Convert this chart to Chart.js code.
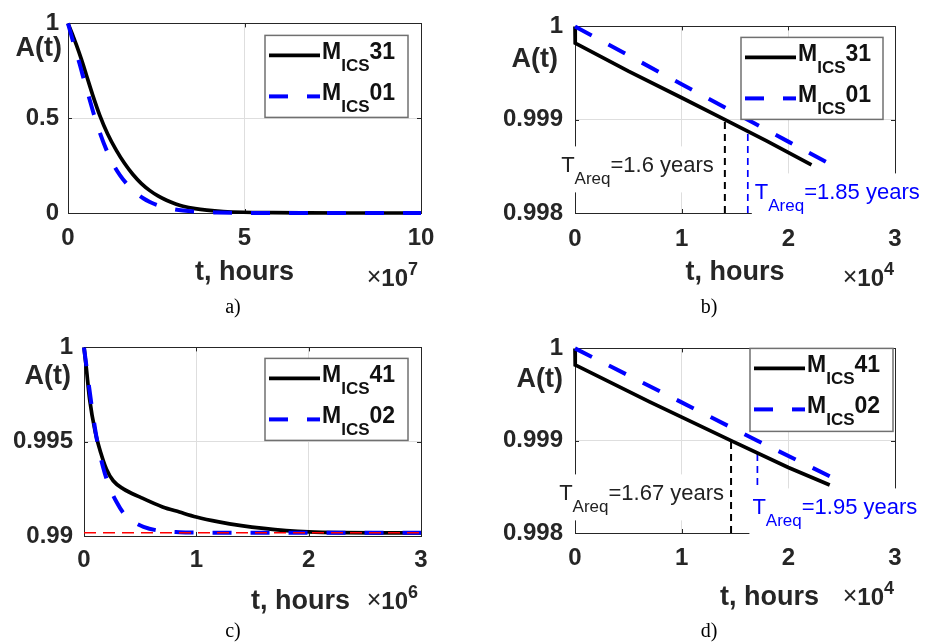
<!DOCTYPE html>
<html><head><meta charset="utf-8">
<script src="https://cdn.jsdelivr.net/npm/chart.js@4.4.1/dist/chart.umd.min.js"></script>
<style>
html,body{margin:0;padding:0;background:#fff;}
#wrap{position:relative;width:933px;height:644px;overflow:hidden;background:#fff;}
canvas{position:absolute;}
</style></head><body>
<div id="wrap">
<canvas id="ca" width="466" height="322" style="left:0;top:0"></canvas>
<canvas id="cb" width="467" height="322" style="left:466px;top:0"></canvas>
<canvas id="cc" width="466" height="322" style="left:0;top:322px"></canvas>
<canvas id="cd" width="467" height="322" style="left:466px;top:322px"></canvas>
</div>
<script>
// ================= DATA =================
// (a) time in units of 1e7 hours
const timeA31  = [0, 0.12, 0.24, 0.38, 0.52, 0.70, 0.90, 1.12, 1.37, 1.60, 1.84, 2.08, 2.32, 2.55, 2.79, 3.05, 3.26, 3.60, 3.93, 4.40, 4.97, 5.80, 6.60, 8.00, 10.0];
const availA31 = [1.0, 0.945, 0.885, 0.81, 0.728, 0.622, 0.515, 0.418, 0.33, 0.262, 0.203, 0.155, 0.118, 0.09, 0.067, 0.048, 0.036, 0.023, 0.015, 0.008, 0.004, 0.002, 0.001, 0.0, 0.0];
const timeA01  = [0, 0.15, 0.33, 0.47, 0.61, 0.75, 0.90, 1.08, 1.28, 1.47, 1.66, 1.90, 2.13, 2.32, 2.51, 2.85, 3.26, 3.70, 4.21, 5.00, 5.63, 10.0];
const availA01 = [1.0, 0.90, 0.786, 0.69, 0.60, 0.51, 0.425, 0.337, 0.258, 0.20, 0.155, 0.11, 0.078, 0.058, 0.043, 0.025, 0.013, 0.006, 0.003, 0.001, 0.0, 0.0];
const seriesA  = ['M_{ICS}31', 'M_{ICS}01'];
const xTicksA = [0, 5, 10], yTicksA = [0, 0.5, 1];

// (b) time in units of 1e4 hours
const timeB31  = [0, 0.002, 0.02, 0.5, 1.0, 1.405, 1.8, 2.217];
const availB31 = [1.0, 0.99982, 0.99981, 0.99952, 0.999235, 0.999, 0.99877, 0.998515];
const timeB01  = [0, 0.5, 1.0, 1.62, 2.0, 2.41];
const availB01 = [1.0, 0.99969, 0.99938, 0.999, 0.998765, 0.998513];
const reqTimeB = [1.405, 1.62];
const reqTopB  = [0.999, 0.99887];
const reqLabelsB = ['T_{Areq}=1.6 years', 'T_{Areq}=1.85 years'];
const seriesB  = ['M_{ICS}31', 'M_{ICS}01'];
const xTicksB = [0, 1, 2, 3], yTicksB = [0.998, 0.999, 1];

// (c) time in units of 1e6 hours
const timeC41  = [0, 0.02, 0.05, 0.1, 0.15, 0.2, 0.26, 0.35, 0.5, 0.7, 0.85, 1.0, 1.2, 1.4, 1.6, 1.8, 2.0, 2.3, 2.6, 3.0];
const availC41 = [1.0, 0.99895, 0.99725, 0.99552, 0.9944, 0.99354, 0.99293, 0.9925, 0.99206, 0.99154, 0.99127, 0.99101, 0.99075, 0.99055, 0.9904, 0.99029, 0.99022, 0.99018, 0.99017, 0.99017];
const timeC02  = [0, 0.04, 0.08, 0.12, 0.17, 0.22, 0.29, 0.36, 0.45, 0.53, 0.65, 0.85, 1.0, 1.5, 2.0, 3.0];
const availC02 = [1.0, 0.99815, 0.9964, 0.99495, 0.99365, 0.9927, 0.9918, 0.99115, 0.99072, 0.99049, 0.9903, 0.9902, 0.99018, 0.99017, 0.99017, 0.99017];
const limitTimeC  = [0, 3];
const limitAvailC = [0.99017, 0.99017];
const seriesC  = ['M_{ICS}41', 'M_{ICS}02'];
const xTicksC = [0, 1, 2, 3], yTicksC = [0.99, 0.995, 1];

// (d) time in units of 1e4 hours
const timeD41  = [0, 0.002, 0.02, 0.7, 1.463, 2.0, 2.388];
const availD41 = [1.0, 0.99982, 0.99981, 0.99942, 0.999, 0.99871, 0.99852];
const timeD02  = [0, 1.0, 1.71, 2.466];
const availD02 = [1.0, 0.999415, 0.999, 0.99857];
const reqTimeD = [1.463, 1.71];
const reqTopD  = [0.999, 0.99886];
const reqLabelsD = ['T_{Areq}=1.67 years', 'T_{Areq}=1.95 years'];
const seriesD  = ['M_{ICS}41', 'M_{ICS}02'];
const xTicksD = [0, 1, 2, 3], yTicksD = [0.998, 0.999, 1];

const yLabel = 'A(t)';
const xLabel = 't, hours';
const exponents = { ca: '7', cb: '4', cc: '6', cd: '4' };
const captions  = { ca: 'a)', cb: 'b)', cc: 'c)', cd: 'd)' };

// ================= STYLE / LAYOUT =================
const SANS = '"Liberation Sans", Arial, Helvetica, sans-serif';
const SERIF = '"Liberation Serif", "Times New Roman", serif';
const AXIS = '#262626';
const BLUE = '#0000ff';
const DASH = [19, 19];

function xy(xs, ys) { return xs.map((x, i) => ({ x: x, y: ys[i] })); }
function solidSet(label, xs, ys, smooth) {
  return { label, data: xy(xs, ys), borderColor: '#000', borderWidth: 3.7, pointRadius: 0, fill: false, clip: false, order: 2,
           cubicInterpolationMode: smooth ? 'monotone' : 'default', tension: 0 };
}
function dashSet(label, xs, ys, smooth) {
  return { label, data: xy(xs, ys), borderColor: BLUE, borderWidth: 4, borderDash: DASH, pointRadius: 0, fill: false, clip: false, order: 1,
           cubicInterpolationMode: smooth ? 'monotone' : 'default', tension: 0 };
}
function vline(t, y0, y1, color, w) {
  return { label: '', data: xy([t, t], [y0, y1]), borderColor: color, borderWidth: w, borderDash: [7, 5], pointRadius: 0, fill: false, clip: false, order: 3 };
}

const PANELS = {
  ca: { area: { l: 68, r: 421, t: 18, b: 213 }, xMin: 0, xMax: 10, yMin: 0, yMax: 1, xTicks: xTicksA, yTicks: yTicksA,
        yPad: 9, xPad: 11, series: seriesA,
        datasets: [solidSet(seriesA[0], timeA31, availA31, true), dashSet(seriesA[1], timeA01, availA01, true)],
        legend: { r: 13, t: 12, w: 143, h: 82 },
        ylab: { dx: -6, dy: 25 }, xtitle: { mode: 'center', dy: 67 }, mult: { dr: 3, dy: 73 }, cap: { x: 233, y: 313 }, notes: [] },
  cb: { area: { l: 109, r: 429, t: 19, b: 213 }, xMin: 0, xMax: 3, yMin: 0.998, yMax: 1, xTicks: xTicksB, yTicks: yTicksB,
        yPad: 12, xPad: 12, series: seriesB,
        datasets: [solidSet(seriesB[0], timeB31, availB31, false), dashSet(seriesB[1], timeB01, availB01, false),
                   vline(reqTimeB[0], 0.998, reqTopB[0], '#000', 2), vline(reqTimeB[1], 0.998, reqTopB[1], BLUE, 1.7)],
        legend: { r: 12, t: 11, w: 142, h: 82 },
        ylab: { dx: -17, dy: 33 }, xtitle: { mode: 'center', dy: 67 }, mult: { dr: 1, dy: 73 }, cap: { x: 243, y: 313 },
        notes: [ { t: reqTimeB[0], label: reqLabelsB[0], align: 'right', dx: -11, dy: 146, color: '#222' },
                 { t: reqTimeB[1], label: reqLabelsB[1], align: 'left', dx: 7, dy: 173, color: BLUE } ] },
  cc: { area: { l: 84, r: 421, t: 23, b: 214 }, xMin: 0, xMax: 3, yMin: 0.99, yMax: 1, xTicks: xTicksC, yTicks: yTicksC,
        yPad: 11, xPad: 10, series: seriesC,
        datasets: [solidSet(seriesC[0], timeC41, availC41, true), dashSet(seriesC[1], timeC02, availC02, true),
                   { label: '', data: xy(limitTimeC, limitAvailC), borderColor: '#ff0000', borderWidth: 1.5, borderDash: [12, 7], pointRadius: 0, fill: false, clip: false, order: 0 }],
        legend: { r: 13, t: 11, w: 143, h: 82 },
        ylab: { dx: -13, dy: 29 }, xtitle: { mode: 'right', dr: 71, dy: 73 }, mult: { dr: 3, dy: 73 }, cap: { x: 233, y: 315 }, notes: [] },
  cd: { area: { l: 109, r: 429, t: 24, b: 211 }, xMin: 0, xMax: 3, yMin: 0.998, yMax: 1, xTicks: xTicksD, yTicks: yTicksD,
        yPad: 12, xPad: 11, series: seriesD,
        datasets: [solidSet(seriesD[0], timeD41, availD41, false), dashSet(seriesD[1], timeD02, availD02, false),
                   vline(reqTimeD[0], 0.998, reqTopD[0], '#000', 2), vline(reqTimeD[1], 0.998, reqTopD[1], BLUE, 1.7)],
        legend: { r: 2, t: 0, w: 143, h: 83 },
        ylab: { dx: -12, dy: 31 }, xtitle: { mode: 'right', dr: 76, dy: 72 }, mult: { dr: 1, dy: 72 }, cap: { x: 243, y: 315 },
        notes: [ { t: reqTimeD[0], label: reqLabelsD[0], align: 'right', dx: -7, dy: 152, color: '#222' },
                 { t: reqTimeD[1], label: reqLabelsD[1], align: 'left', dx: -5, dy: 166, color: BLUE } ] }
};

// rich text "X_{sub}rest"
function richSegs(str, mainFont, subFont, subDy) {
  const segs = [];
  const re = /_\{([^}]*)\}/g;
  let last = 0, m;
  while ((m = re.exec(str)) !== null) {
    if (m.index > last) segs.push({ text: str.slice(last, m.index), font: mainFont, dy: 0 });
    segs.push({ text: m[1], font: subFont, dy: subDy });
    last = re.lastIndex;
  }
  if (last < str.length) segs.push({ text: str.slice(last), font: mainFont, dy: 0 });
  return segs;
}
function measureSegs(ctx, segs) {
  let w = 0;
  segs.forEach(s => { ctx.font = s.font; s.w = ctx.measureText(s.text).width; w += s.w; });
  return w;
}
function drawSegs(ctx, segs, x, base, color) {
  ctx.fillStyle = color; ctx.textAlign = 'left'; ctx.textBaseline = 'alphabetic';
  let cx = x;
  segs.forEach(s => { ctx.font = s.font; ctx.fillText(s.text, cx, base + s.dy); cx += s.w; });
}

const decor = {
  id: 'decor',
  beforeDatasetsDraw(chart) {
    const P = PANELS[chart.canvas.id]; const ctx = chart.ctx; const a = chart.chartArea;
    const xs = chart.scales.x, ys = chart.scales.y;
    ctx.save();
    ctx.strokeStyle = AXIS; ctx.lineWidth = 1;
    ctx.beginPath();
    P.xTicks.forEach(v => { const px = Math.round(xs.getPixelForValue(v)) + 0.5;
      ctx.moveTo(px, a.bottom); ctx.lineTo(px, a.bottom - 4); ctx.moveTo(px, a.top); ctx.lineTo(px, a.top + 4); });
    P.yTicks.forEach(v => { const py = Math.round(ys.getPixelForValue(v)) + 0.5;
      ctx.moveTo(a.left, py); ctx.lineTo(a.left + 4, py); ctx.moveTo(a.right, py); ctx.lineTo(a.right - 4, py); });
    ctx.stroke();
    ctx.strokeRect(Math.round(a.left) + 0.5, Math.round(a.top) + 0.5, Math.round(a.right - a.left), Math.round(a.bottom - a.top));
    ctx.restore();
  },
  afterDatasetsDraw(chart) {
    const P = PANELS[chart.canvas.id]; const ctx = chart.ctx; const a = chart.chartArea;
    const xs = chart.scales.x;
    ctx.save();
    // annotations with white background
    P.notes.forEach(n => {
      const segs = richSegs(n.label, '22px ' + SANS, '17px ' + SANS, 12);
      const w = measureSegs(ctx, segs);
      const lx = xs.getPixelForValue(n.t);
      const left = n.align === 'right' ? lx + n.dx - w : lx + n.dx;
      const base = a.top + n.dy;
      ctx.fillStyle = '#fff';
      ctx.fillRect(left - 3, base - 26, w + 6, 46);
      drawSegs(ctx, segs, left, base, n.color);
    });
    // legend
    const L = P.legend;
    const bx = a.right - L.r - L.w, by = a.top + L.t;
    ctx.fillStyle = '#fff'; ctx.fillRect(bx, by, L.w, L.h);
    ctx.strokeStyle = '#707070'; ctx.lineWidth = 1.5; ctx.strokeRect(bx, by, L.w, L.h);
    const rows = [20, 61];
    P.series.forEach((name, i) => {
      const ds = P.datasets[i];
      const ly = by + rows[i];
      ctx.save();
      ctx.strokeStyle = ds.borderColor; ctx.lineWidth = ds.borderWidth; ctx.lineCap = 'butt';
      ctx.setLineDash(ds.borderDash || []);
      ctx.beginPath(); ctx.moveTo(bx + 4, ly); ctx.lineTo(bx + 55, ly); ctx.stroke();
      ctx.restore();
      const segs = richSegs(name, 'bold 23px ' + SANS, 'bold 17px ' + SANS, 12);
      measureSegs(ctx, segs);
      drawSegs(ctx, segs, bx + 57, ly + 4, '#111');
    });
    ctx.restore();
  },
  afterDraw(chart) {
    const id = chart.canvas.id; const P = PANELS[id]; const ctx = chart.ctx; const a = chart.chartArea;
    ctx.save();
    // y label
    ctx.font = 'bold 27px ' + SANS; ctx.fillStyle = AXIS; ctx.textAlign = 'right'; ctx.textBaseline = 'middle';
    ctx.fillText(yLabel, a.left + P.ylab.dx, a.top + P.ylab.dy);
    // x title
    ctx.font = 'bold 27px ' + SANS; ctx.textBaseline = 'alphabetic';
    if (P.xtitle.mode === 'center') { ctx.textAlign = 'center'; ctx.fillText(xLabel, (a.left + a.right) / 2, a.bottom + P.xtitle.dy); }
    else { ctx.textAlign = 'right'; ctx.fillText(xLabel, a.right - P.xtitle.dr, a.bottom + P.xtitle.dy); }
    // multiplier x10^n
    const segs = [ { text: '\u00d7', font: '25px ' + SANS, dy: -1 }, { text: '10', font: 'bold 24px ' + SANS, dy: 0 },
                   { text: exponents[id], font: 'bold 18px ' + SANS, dy: -11 } ];
    const w = measureSegs(ctx, segs);
    drawSegs(ctx, segs, a.right - P.mult.dr - w, a.bottom + P.mult.dy, AXIS);
    // caption
    ctx.font = '20px ' + SERIF; ctx.fillStyle = '#000'; ctx.textAlign = 'center'; ctx.textBaseline = 'alphabetic';
    ctx.fillText(captions[id], P.cap.x, P.cap.y);
    ctx.restore();
  }
};

function makeChart(id) {
  const P = PANELS[id];
  const cv = document.getElementById(id);
  const W = cv.width, H = cv.height;
  const tickFont = { family: SANS, size: 24, weight: 'bold' };
  return new Chart(cv, {
    type: 'line',
    data: { datasets: P.datasets },
    options: {
      responsive: false, animation: false, devicePixelRatio: 1,
      layout: { padding: { top: P.area.t, right: W - P.area.r, bottom: 0, left: 0 } },
      plugins: { legend: { display: false }, tooltip: { enabled: false } },
      scales: {
        x: { type: 'linear', min: P.xMin, max: P.xMax,
             afterBuildTicks: s => { s.ticks = P.xTicks.map(v => ({ value: v })); },
             afterFit: s => { s.height = H - P.area.b; },
             grid: { color: '#dedede', lineWidth: 1, drawTicks: false },
             border: { display: false },
             ticks: { padding: P.xPad, color: AXIS, font: tickFont, maxRotation: 0, autoSkip: false, callback: v => String(v) } },
        y: { type: 'linear', min: P.yMin, max: P.yMax,
             afterBuildTicks: s => { s.ticks = P.yTicks.map(v => ({ value: v })); },
             afterFit: s => { s.width = P.area.l; },
             grid: { color: '#dedede', lineWidth: 1, drawTicks: false },
             border: { display: false },
             ticks: { padding: P.yPad, color: AXIS, font: tickFont, autoSkip: false, callback: v => String(v) } }
      }
    },
    plugins: [decor]
  });
}
['ca', 'cb', 'cc', 'cd'].forEach(makeChart);
</script>
</body></html>
